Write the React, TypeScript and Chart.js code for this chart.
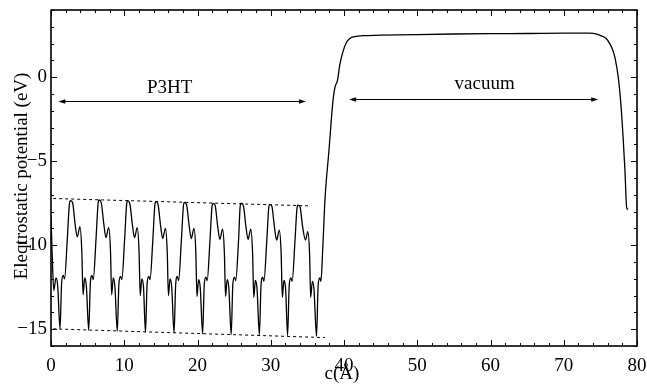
import React, { useEffect, useRef } from "react";
import { Chart, registerables } from "chart.js";

Chart.register(...registerables);

const FONT = '"Liberation Serif", "Times New Roman", serif';

// x-range and y-range of the axes
const X_MIN = 0;
const X_MAX = 80;
const Y_MIN = -16;
const Y_MAX = 4;

const xTickValues = [0, 10, 20, 30, 40, 50, 60, 70, 80];
const yTickValues = [-15, -10, -5, 0];

const xTitle = "c(Å)";
const yTitle = "Eleqtrostatic potential (eV)";

// Electrostatic potential profile along c (Å) -> eV
const potentialX = [
  0, 0.15, 0.38, 0.68, 0.92, 1.23,
  1.45, 1.68, 1.85, 2.23, 2.5, 2.65, 2.95, 3.28, 3.59, 3.95, 4.2, 4.38, 4.6, 4.83, 5.15,
  5.37, 5.6, 5.77, 6.15, 6.42, 6.55, 6.85, 7.2, 7.5, 7.87, 8.12, 8.28, 8.5, 8.73, 9.05,
  9.27, 9.5, 9.67, 10.05, 10.32, 10.45, 10.75, 11.1, 11.4, 11.77, 12.02, 12.18, 12.4, 12.63, 12.9,
  13.12, 13.35, 13.52, 13.9, 14.17, 14.3, 14.6, 14.95, 15.25, 15.62, 15.87, 16.03, 16.25, 16.48, 16.8,
  17.02, 17.25, 17.42, 17.8, 18.07, 18.2, 18.5, 18.85, 19.15, 19.52, 19.77, 19.93, 20.15, 20.38, 20.7,
  20.92, 21.15, 21.32, 21.7, 21.97, 22.1, 22.4, 22.75, 23.05, 23.42, 23.67, 23.83, 24.05, 24.28, 24.6,
  24.82, 25.05, 25.22, 25.6, 25.82, 25.95, 26.25, 26.6, 26.9, 27.27, 27.52, 27.68, 27.9, 28.13, 28.45,
  28.67, 28.9, 29.07, 29.45, 29.72, 29.85, 30.15, 30.5, 30.8, 31.17, 31.42, 31.58, 31.8, 32.03, 32.3,
  32.52, 32.75, 32.92, 33.3, 33.57, 33.7, 34.0, 34.35, 34.75, 35.05, 35.3, 35.45, 35.68, 35.9, 36.25,
  36.47, 36.7, 36.85, 37.1, 37.4, 37.95, 38.5, 38.77, 39.1, 39.45, 39.9, 40.35, 40.8, 41.5,
  42.5, 45, 50, 55, 60, 65, 70, 73.5, 74.5, 75.2, 75.8, 76.3, 76.7, 77.0, 77.44, 77.8, 78.1, 78.35,
  78.6, 78.8,
];

const potentialY = [
  -8.3, -10.4, -12.7, -11.95, -12.45, -14.98,
  -12.25, -11.8, -12.0, -9.6, -7.6, -7.35, -7.47, -8.7, -9.5, -8.9, -10.3, -12.95, -11.95, -12.45, -15.06,
  -12.3, -11.8, -12.05, -9.6, -7.55, -7.31, -7.45, -8.7, -9.55, -8.95, -10.3, -12.95, -11.95, -12.5, -15.12,
  -12.3, -11.85, -12.05, -9.65, -7.6, -7.35, -7.5, -8.75, -9.55, -8.95, -10.35, -13.0, -12.0, -12.5, -15.18,
  -12.3, -11.85, -12.05, -9.7, -7.65, -7.41, -7.55, -8.8, -9.6, -9.0, -10.4, -13.0, -12.0, -12.5, -15.22,
  -12.35, -11.85, -12.1, -9.7, -7.7, -7.45, -7.58, -8.8, -9.6, -9.0, -10.4, -13.05, -12.05, -12.55, -15.28,
  -12.35, -11.9, -12.1, -9.75, -7.75, -7.51, -7.62, -8.85, -9.65, -9.05, -10.45, -13.05, -12.05, -12.55, -15.32,
  -12.35, -11.9, -12.1, -9.75, -7.72, -7.5, -7.62, -8.85, -9.65, -9.05, -10.45, -13.1, -12.1, -12.6, -15.35,
  -12.4, -11.9, -12.15, -9.8, -7.8, -7.57, -7.68, -8.9, -9.7, -9.1, -10.5, -13.1, -12.1, -12.6, -15.38,
  -12.4, -11.95, -12.15, -9.8, -7.85, -7.61, -7.72, -8.9, -9.7, -9.2, -10.5, -13.1, -12.15, -12.6, -15.42,
  -12.4, -11.95, -12.15, -10.2, -7.3, -4.35, -1.38, -0.59, -0.2, 0.79, 1.58, 2.08, 2.3, 2.42,
  2.47, 2.5, 2.54, 2.57, 2.59, 2.6, 2.62, 2.62, 2.57, 2.45, 2.3, 1.98, 1.6, 1.15, 0, -1.6, -3.56, -5.5,
  -7.8, -7.86,
];

// dashed envelopes of maxima and minima in the P3HT region
const upperEnvX = [0.3, 35.4];
const upperEnvY = [-7.22, -7.66];
const lowerEnvX = [0.3, 37.4];
const lowerEnvY = [-14.98, -15.5];

// region annotations (double arrows with labels)
const regionLabels = ["P3HT", "vacuum"];
const regionStart = [1.0, 40.7];
const regionEnd = [34.8, 74.7];
const regionArrowY = [-1.42, -1.32];
const regionLabelX = [16.2, 59.2];
const regionLabelY = [-0.95, -0.69];

function fmt(v: number) {
  return v < 0 ? "\u2212" + Math.abs(v) : String(v);
}

export default function App() {
  const ref = useRef<HTMLCanvasElement>(null);

  useEffect(() => {
    const canvas = ref.current;
    if (!canvas) return;

    const framePlugin = {
      id: "frame",
      afterDatasetsDraw(chart: any) {
        const { ctx, scales } = chart;
        const xs = scales.x;
        const ys = scales.y;
        ctx.save();
        ctx.strokeStyle = "#000";
        ctx.fillStyle = "#000";
        ctx.lineWidth = 1;
        for (let i = 0; i < regionLabels.length; i++) {
          const x1 = xs.getPixelForValue(regionStart[i]);
          const x2 = xs.getPixelForValue(regionEnd[i]);
          const y = Math.round(ys.getPixelForValue(regionArrowY[i])) + 0.5;
          ctx.beginPath();
          ctx.moveTo(x1 + 4, y);
          ctx.lineTo(x2 - 4, y);
          ctx.stroke();
          ctx.beginPath();
          ctx.moveTo(x1, y);
          ctx.lineTo(x1 + 7, y - 2.2);
          ctx.lineTo(x1 + 7, y + 2.2);
          ctx.closePath();
          ctx.fill();
          ctx.beginPath();
          ctx.moveTo(x2, y);
          ctx.lineTo(x2 - 7, y - 2.2);
          ctx.lineTo(x2 - 7, y + 2.2);
          ctx.closePath();
          ctx.fill();
          ctx.font = "19px " + FONT;
          ctx.textAlign = "center";
          ctx.textBaseline = "alphabetic";
          ctx.fillText(
            regionLabels[i],
            xs.getPixelForValue(regionLabelX[i]),
            ys.getPixelForValue(regionLabelY[i])
          );
        }
        ctx.restore();
      },
      afterDraw(chart: any) {
        const { ctx, chartArea: a, scales } = chart;
        const xs = scales.x;
        const ys = scales.y;
        ctx.save();
        ctx.strokeStyle = "#000";
        ctx.lineWidth = 1.6;
        ctx.strokeRect(a.left, a.top, a.right - a.left, a.bottom - a.top);
        ctx.lineWidth = 1;
        for (let v = X_MIN; v <= X_MAX; v += 2) {
          const px = Math.round(xs.getPixelForValue(v)) + 0.5;
          const len = v % 10 === 0 ? 6 : 3;
          ctx.beginPath();
          ctx.moveTo(px, a.bottom);
          ctx.lineTo(px, a.bottom - len);
          ctx.moveTo(px, a.top);
          ctx.lineTo(px, a.top + len);
          ctx.stroke();
        }
        for (let v = Y_MIN; v <= Y_MAX; v += 1) {
          const py = Math.round(ys.getPixelForValue(v)) + 0.5;
          const len = v % 5 === 0 ? 6 : 3;
          ctx.beginPath();
          ctx.moveTo(a.left, py);
          ctx.lineTo(a.left + len, py);
          ctx.moveTo(a.right, py);
          ctx.lineTo(a.right - len, py);
          ctx.stroke();
        }
        ctx.fillStyle = "#000";
        ctx.font = "19px " + FONT;
        ctx.textAlign = "center";
        ctx.textBaseline = "alphabetic";
        ctx.fillText(xTitle, (a.left + a.right) / 2 - 2, 379);
        ctx.translate(26.5, (a.top + a.bottom) / 2 - 2);
        ctx.rotate(-Math.PI / 2);
        ctx.fillText(yTitle, 0, 0);
        ctx.restore();
      },
    };

    const chart = new Chart(canvas, {
      type: "scatter",
      data: {
        datasets: [
          {
            data: potentialX.map((x, i) => ({ x, y: potentialY[i] })),
            showLine: true,
            borderColor: "#000",
            borderWidth: 1.3,
            pointRadius: 0,
            cubicInterpolationMode: "monotone",
          },
          {
            data: upperEnvX.map((x, i) => ({ x, y: upperEnvY[i] })),
            showLine: true,
            borderColor: "#000",
            borderWidth: 1,
            borderDash: [3, 3],
            pointRadius: 0,
          },
          {
            data: lowerEnvX.map((x, i) => ({ x, y: lowerEnvY[i] })),
            showLine: true,
            borderColor: "#000",
            borderWidth: 1,
            borderDash: [3, 3],
            pointRadius: 0,
          },
        ],
      },
      options: {
        responsive: false,
        animation: false,
        layout: { padding: { top: 10, right: 10, left: 0, bottom: 0 } },
        plugins: { legend: { display: false }, tooltip: { enabled: false } },
        scales: {
          x: {
            type: "linear",
            min: X_MIN,
            max: X_MAX,
            grid: { display: false, drawTicks: false },
            border: { display: false },
            afterBuildTicks: (s: any) => {
              s.ticks = xTickValues.map((v) => ({ value: v }));
            },
            afterFit: (s: any) => {
              s.height = 39;
              s.paddingLeft = 0;
              s.paddingRight = 0;
              s.paddingTop = 0;
              s.paddingBottom = 0;
            },
            ticks: {
              color: "#000",
              padding: 9,
              maxRotation: 0,
              font: { family: FONT, size: 19 },
              callback: (v: any) => fmt(Number(v)),
            },
          },
          y: {
            type: "linear",
            min: Y_MIN,
            max: Y_MAX,
            grid: { display: false, drawTicks: false },
            border: { display: false },
            afterBuildTicks: (s: any) => {
              s.ticks = yTickValues.map((v) => ({ value: v }));
            },
            afterFit: (s: any) => {
              s.width = 51;
              s.paddingLeft = 0;
              s.paddingRight = 0;
              s.paddingTop = 0;
              s.paddingBottom = 0;
            },
            ticks: {
              color: "#000",
              padding: 4,
              font: { family: FONT, size: 19 },
              callback: (v: any) => fmt(Number(v)),
            },
          },
        },
      },
      plugins: [framePlugin],
    });

    return () => chart.destroy();
  }, []);

  return (
    <div style={{ position: "fixed", left: 0, top: 0, width: 647, height: 385, background: "#fff" }}>
      <canvas ref={ref} width={647} height={385} style={{ display: "block" }} />
    </div>
  );
}
